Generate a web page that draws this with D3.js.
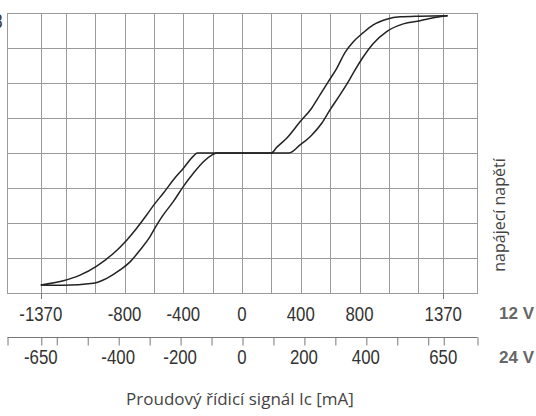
<!DOCTYPE html>
<html lang="cs">
<head>
<meta charset="UTF-8" />
<title>Proudový řídicí signál</title>
<script src="https://cdn.jsdelivr.net/npm/d3@7"></script>
<style>
    body { margin: 0; background: #fff; overflow: hidden; }
    .tick-label { font-family: 'Liberation Sans', Arial, sans-serif; font-size: 21px; fill: #333; }
    .volt { font-family: 'Liberation Sans', Arial, sans-serif; font-weight: bold; font-size: 17px; fill: #666; }
    .title { font-family: 'Open Sans', sans-serif; font-size: 17px; fill: #444; }
</style>
</head>
<body>
<svg width="536" height="416"></svg>
<script>
    // vertical grid lines (mA, 12 V scale)
    const gridMA = [-1370, -1200, -1000, -800, -600, -400, -200, 0, 200, 400, 600, 800, 1000, 1200, 1370];
    const labels12 = [-1370, -800, -400, 0, 400, 800, 1370];
    const ticks24 = [-650, -600, -500, -400, -300, -200, -100, 0, 100, 200, 300, 400, 500, 600, 650];
    const labels24 = [-650, -400, -200, 0, 200, 400, 650];
    const rows = [0, 1, 2, 3, 4, 5, 6, 7, 8];

    // hysteresis branches [mA, supply level]
    const leftBranch = [
        [-1370, 0.23], [-1216, 0.35], [-1103, 0.51], [-989, 0.77], [-876, 1.13], [-785, 1.51],
        [-717, 1.85], [-649, 2.23], [-592, 2.56], [-536, 2.85], [-468, 3.23], [-400, 3.56],
        [-331, 3.91], [-305, 4.0], [200, 4.0], [236, 4.16], [304, 4.42], [395, 4.89],
        [474, 5.28], [531, 5.66], [588, 6.04], [645, 6.42], [701, 6.87], [758, 7.18],
        [826, 7.44], [894, 7.66], [985, 7.82], [1076, 7.89], [1212, 7.91], [1400, 7.92]
    ];
    const rightBranch = [
        [-1370, 0.23], [-1216, 0.22], [-1012, 0.28], [-921, 0.42], [-830, 0.66], [-762, 0.89],
        [-694, 1.23], [-626, 1.61], [-581, 1.94], [-536, 2.23], [-468, 2.61], [-400, 3.04],
        [-331, 3.42], [-263, 3.75], [-206, 3.94], [-172, 4.0], [320, 4.0], [395, 4.23],
        [474, 4.51], [543, 4.85], [599, 5.23], [667, 5.66], [724, 6.04], [769, 6.37],
        [826, 6.75], [894, 7.13], [985, 7.47], [1098, 7.69], [1212, 7.78], [1325, 7.88], [1400, 7.92]
    ];

    const svg = d3.select("svg");

    const x = d3.scaleLinear().domain([-1600, 1600]).range([7, 477]);
    const y = d3.scaleLinear().domain([0, 8]).range([293, 13]);
    const x24 = d3.scaleLinear().domain([-650, 650]).range([x(-1370), x(1370)]);

    // narrow numerals: plain sans squeezed horizontally
    const squeeze = 0.8;

    const grid = svg.append("g").attr("stroke", "#9a9a9a").attr("stroke-width", 1);

    grid.selectAll(".gv")
        .data(gridMA)
        .enter().append("line")
        .attr("x1", d => Math.round(x(d)) + 0.5)
        .attr("x2", d => Math.round(x(d)) + 0.5)
        .attr("y1", y(8))
        .attr("y2", y(0));

    grid.selectAll(".gh")
        .data(rows)
        .enter().append("line")
        .attr("x1", x(-1600))
        .attr("x2", x(1600))
        .attr("y1", d => Math.round(y(d)) + 0.5)
        .attr("y2", d => Math.round(y(d)) + 0.5);

    grid.append("rect")
        .attr("x", Math.round(x(-1600)) + 0.5)
        .attr("y", Math.round(y(8)) + 0.5)
        .attr("width", Math.round(x(1600) - x(-1600)))
        .attr("height", Math.round(y(0) - y(8)))
        .attr("fill", "none");

    // small ticks at +-1370 below the plot
    svg.selectAll(".t12")
        .data([-1370, 1370])
        .enter().append("line")
        .attr("x1", d => Math.round(x(d)) + 0.5)
        .attr("x2", d => Math.round(x(d)) + 0.5)
        .attr("y1", y(0))
        .attr("y2", y(0) + 6)
        .attr("stroke", "#777");

    const line = d3.line()
        .x(d => x(d[0]))
        .y(d => y(d[1]))
        .curve(d3.curveMonotoneX);

    svg.selectAll(".branch")
        .data([leftBranch, rightBranch])
        .enter().append("path")
        .attr("d", line)
        .attr("fill", "none")
        .attr("stroke", "#222")
        .attr("stroke-width", 1.5);

    // 12 V labels
    svg.selectAll(".l12")
        .data(labels12)
        .enter().append("text")
        .attr("class", "tick-label")
        .attr("transform", d => `translate(${x(d)},321) scale(${squeeze},1)`)
        .attr("text-anchor", "middle")
        .text(d => d);

    // 24 V axis
    const axis24 = d3.axisBottom(x24)
        .tickValues([x24.invert(x(-1600))].concat(ticks24, [x24.invert(x(1600))]))
        .tickSize(8)
        .tickSizeOuter(0)
        .tickFormat("");

    const g24 = svg.append("g")
        .attr("transform", "translate(0.5,337.5)")
        .call(axis24);
    g24.select(".domain").attr("stroke", "#777").attr("d", `M${x(-1600)},0H${x(1600)}`);
    g24.selectAll(".tick line").attr("stroke", "#777");

    svg.selectAll(".l24")
        .data(labels24)
        .enter().append("text")
        .attr("class", "tick-label")
        .attr("transform", d => `translate(${x24(d)},364) scale(${squeeze},1)`)
        .attr("text-anchor", "middle")
        .text(d => d);

    svg.append("text").attr("class", "volt").attr("x", 499).attr("y", 319).text("12 V");
    svg.append("text").attr("class", "volt").attr("x", 499).attr("y", 363).text("24 V");

    // cut-off y label at the top left
    svg.append("text")
        .attr("class", "tick-label")
        .attr("transform", `translate(2.5,28) scale(${squeeze},1)`)
        .attr("text-anchor", "end")
        .attr("fill", "#444")
        .text("8");

    svg.append("text")
        .attr("class", "title")
        .attr("transform", "translate(505,215) rotate(-90)")
        .attr("text-anchor", "middle")
        .style("font-size", "16px")
        .text("napájecí napětí");

    svg.append("text")
        .attr("class", "title")
        .attr("x", 240)
        .attr("y", 405)
        .attr("text-anchor", "middle")
        .text("Proudový řídicí signál Ic [mA]");
</script>
</body>
</html>
